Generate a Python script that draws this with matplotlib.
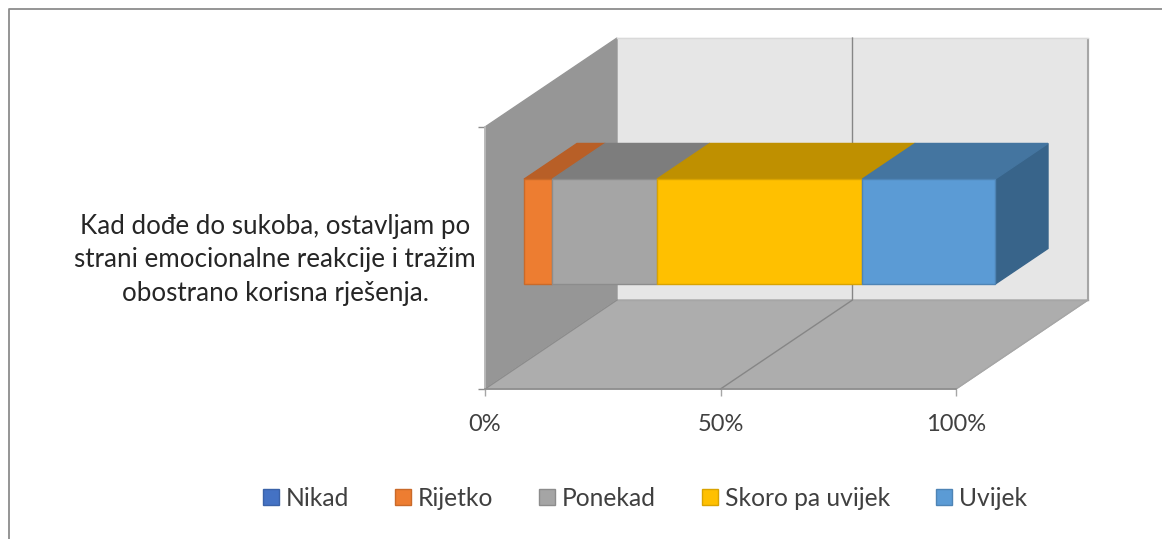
from matplotlib import pyplot as plt
from matplotlib.lines import Line2D
from matplotlib.patches import Patch, Polygon

# --- data ---
question = "Kad dođe do sukoba, ostavljam po\nstrani emocionalne reakcije i tražim\nobostrano korisna rješenja."
categories = ["Nikad", "Rijetko", "Ponekad", "Skoro pa uvijek", "Uvijek"]
values = [0, 6, 22.2, 43.6, 28.2]
x_ticks = [0, 50, 100]
x_labels = ["0%", "50%", "100%"]

front_colors = ["#4472C4", "#ED7D31", "#A5A5A5", "#FFC000", "#5B9BD5"]
top_colors = ["#335593", "#B85F27", "#7D7D7D", "#BF9000", "#4475A0"]
side_colors = ["#2A4679", "#9A5020", "#686868", "#A07800", "#38648A"]
edge_colors = ["#3A62A8", "#C96A2A", "#8C8C8C", "#D9A300", "#4E84B5"]

plt.rcParams['font.family'] = ['Lato', 'DejaVu Sans']

W, H = 1162, 539
PX = 4.71  # pixels per percent
fig = plt.figure(figsize=(W / 100, H / 100), dpi=100)
ax = fig.add_axes([0, 0, 1, 1])
ax.patch.set_visible(False)

# axes cover the whole figure: percent on x, 0-1 on y
ax.set_xlim((0 - 485) / PX, (W - 485) / PX)
ax.set_ylim((389 - H) / 262, 389 / 262)

# oblique depth of the 3D box
DX = 132 / PX
DY = 89 / 262


def pt(x, y, d):
    return (x + DX * d, y + DY * d)


def face(points, color, edge=None, z=1):
    ax.add_patch(Polygon([pt(*p) for p in points], closed=True, facecolor=color,
                         edgecolor=edge if edge else color, linewidth=1, zorder=z))


# walls and floor
face([(0, 0, 1), (100, 0, 1), (100, 1, 1), (0, 1, 1)], "#E6E6E6", "#E6E6E6")
face([(0, 0, 0), (0, 0, 1), (0, 1, 1), (0, 1, 0)], "#969696", "#969696")
face([(0, 0, 0), (100, 0, 0), (100, 0, 1), (0, 0, 1)], "#ADADAD", "#ADADAD")

wall_line = "#A6A6A6"
ax.plot(*zip(pt(100, 0, 1), pt(100, 1, 1)), color=wall_line, lw=1.5, zorder=1.1, solid_capstyle='butt')
ax.plot(*zip(pt(0, 1, 1), pt(100, 1, 1)), color="#D9D9D9", lw=1, zorder=1.1)
ax.plot(*zip(pt(0, 0, 1), pt(100, 0, 1)), color=wall_line, lw=1, zorder=1.1)
ax.plot(*zip(pt(100, 0, 0), pt(100, 0, 1)), color=wall_line, lw=1, zorder=1.1)
ax.plot(*zip(pt(0, 0, 0), pt(0, 0, 1)), color="#8C8C8C", lw=1, zorder=1.1)
ax.plot(*zip(pt(50, 0, 0), pt(50, 0, 1), pt(50, 1, 1)), color="#868686", lw=1, zorder=1.2)

# stacked bar
d0, d1 = 39 / 132, 92 / 132
y0, y1 = (0.5 - 52.5 / 262), (0.5 + 52.5 / 262)
left = 0
for v, fc, tc, sc, ec in zip(values, front_colors, top_colors, side_colors, edge_colors):
    if v > 0:
        right = left + v
        face([(right, y0, d0), (right, y0, d1), (right, y1, d1), (right, y1, d0)], sc, sc, 2)
        face([(left, y1, d0), (right, y1, d0), (right, y1, d1), (left, y1, d1)], tc, tc, 2)
        face([(left, y0, d0), (right, y0, d0), (right, y1, d0), (left, y1, d0)], fc, ec, 3)
        left = right

# real axes at the front of the box
for s in ['top', 'right']:
    ax.spines[s].set_visible(False)
ax.spines['bottom'].set_position(('data', 0))
ax.spines['left'].set_position(('data', 0))
ax.spines['bottom'].set_bounds(0, 100)
ax.spines['left'].set_bounds(0, 1)
ax.spines['bottom'].set_color("#8C8C8C")
ax.spines['left'].set_color("#BDBDBD")
ax.spines['bottom'].set_linewidth(1.2)
ax.spines['left'].set_linewidth(1.2)
ax.set_xticks(x_ticks)
ax.set_xticklabels(x_labels, fontsize=17, color="#404040")
ax.set_yticks([0, 1])
ax.set_yticklabels([])
ax.tick_params(axis='x', length=5, width=1, color="#A6A6A6", pad=13)
ax.tick_params(axis='y', length=5, width=1, color="#8C8C8C")

ax.text((275 - 485) / PX, (389 - 260) / 262, question, ha='center', va='center',
        fontsize=18.7, color="#262626", linespacing=1.42)

handles = [Patch(facecolor=f, edgecolor=e, linewidth=1) for f, e in zip(front_colors, edge_colors)]
ax.legend(handles, categories, loc='center', bbox_to_anchor=(645 / W, 1 - 498 / H), ncol=5, frameon=False,
          fontsize=17.7, handlelength=0.65, handleheight=0.65, handletextpad=0.28, columnspacing=1.87,
          labelcolor="#404040", borderpad=0)

# frame of the chart area, cut by the picture on the right and at the bottom
fig.add_artist(Line2D([8.5 / W, 8.5 / W, 1], [0, 1 - 8.5 / H, 1 - 8.5 / H], color="#8C8C8C", lw=1.3))

fig.savefig("out.png", dpi=100)
